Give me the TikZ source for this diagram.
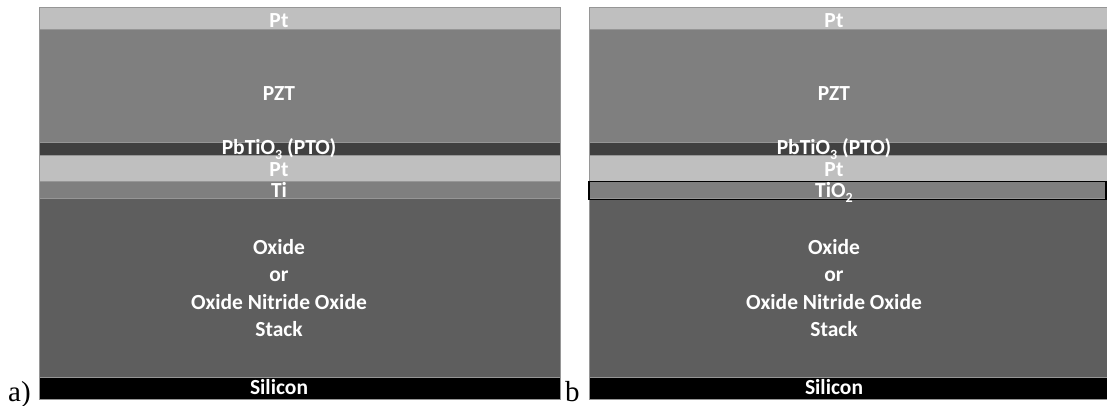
\documentclass[tikz,border=0pt]{standalone}
\usepackage{fontspec}
\setmainfont{Carlito}
\newfontfamily\labelfont{Liberation Serif}
\definecolor{ptgray}{RGB}{191,191,191}
\definecolor{pztgray}{RGB}{127,127,127}
\definecolor{ptogray}{RGB}{64,64,64}
\definecolor{oxgray}{RGB}{94,94,94}
\definecolor{edgegray}{RGB}{150,150,150}
\newcommand{\lowsub}[1]{\raisebox{-5pt}{\fontsize{14}{14}\selectfont #1}}
\begin{document}
\begin{tikzpicture}[x=1pt,y=-1pt,
  layerbox/.style={draw=edgegray, line width=0.7pt},
  txt/.style={text=white, font=\bfseries\fontsize{21.5}{24}\selectfont, anchor=base, inner sep=0pt},
  panellabel/.style={text=black, font=\labelfont\fontsize{29}{32}\selectfont, anchor=base west, inner sep=0pt}]
\useasboundingbox (0,0) rectangle (1107,406);
% ---------- panel a ----------
\begin{scope}
\def\xl{39}\def\xr{560.5}
\draw[layerbox, fill=ptgray]  (\xl,7)     rectangle (\xr,29.3);
\draw[layerbox, fill=pztgray] (\xl,29.3)  rectangle (\xr,142.5);
\draw[layerbox, fill=ptogray] (\xl,142.5) rectangle (\xr,155.7);
\draw[layerbox, fill=ptgray]  (\xl,155.7) rectangle (\xr,181.5);
\draw[layerbox, fill=pztgray] (\xl,181.5) rectangle (\xr,198.8);
\draw[layerbox, fill=oxgray]  (\xl,198.8) rectangle (\xr,377.3);
\draw[layerbox, fill=black]   (\xl,377.3) rectangle (\xr,399);
\end{scope}
\node[txt] (aPt1) at (279,27.3) {Pt};
\node[txt] (aPZT) at (279,100.7) {PZT};
\node[txt] (aPTO) at (279,154.3) {PbTiO\lowsub{3} (PTO)};
\node[txt] (aPt2) at (279,176) {Pt};
\node[txt] (aTi)  at (279,197.3) {Ti};
\node[txt] (aOx1) at (279,254.3) {Oxide};
\node[txt] (aOx2) at (279,281.8) {or};
\node[txt] (aOx3) at (279,309.5) {Oxide Nitride Oxide};
\node[txt] (aOx4) at (279,336.7) {Stack};
\node[txt] (aSi)  at (279,394.3) {Silicon};
\node[panellabel] (la) at (8,401.5) {a)};
% ---------- panel b ----------
\begin{scope}
\def\xl{589.3}\def\xr{1107}
\draw[layerbox, fill=ptgray]  (\xl,7)     rectangle (\xr,29.3);
\draw[layerbox, fill=pztgray] (\xl,29.3)  rectangle (\xr,142.5);
\draw[layerbox, fill=ptogray] (\xl,142.5) rectangle (\xr,155.7);
\draw[layerbox, fill=ptgray]  (\xl,155.7) rectangle (\xr,181.5);
\draw[layerbox, fill=pztgray] (\xl,181.5) rectangle (\xr,198.8);
\draw[layerbox, fill=oxgray]  (\xl,198.8) rectangle (\xr,377.3);
\draw[layerbox, fill=black]   (\xl,377.3) rectangle (\xr,399);
\draw[black, line width=1.6pt] (589,181.3) rectangle (1106.2,199.3);
\end{scope}
\node[txt] (bPt1) at (834,27.3) {Pt};
\node[txt] (bPZT) at (834,100.7) {PZT};
\node[txt] (bPTO) at (834,154.3) {PbTiO\lowsub{3} (PTO)};
\node[txt] (bPt2) at (834,176) {Pt};
\node[txt] (bTi)  at (834,197.3) {TiO\lowsub{2}};
\node[txt] (bOx1) at (834,254.3) {Oxide};
\node[txt] (bOx2) at (834,281.8) {or};
\node[txt] (bOx3) at (834,309.5) {Oxide Nitride Oxide};
\node[txt] (bOx4) at (834,336.7) {Stack};
\node[txt] (bSi)  at (834,394.3) {Silicon};
\node[panellabel] (lb) at (565,401.5) {b};
\end{tikzpicture}
\end{document}
